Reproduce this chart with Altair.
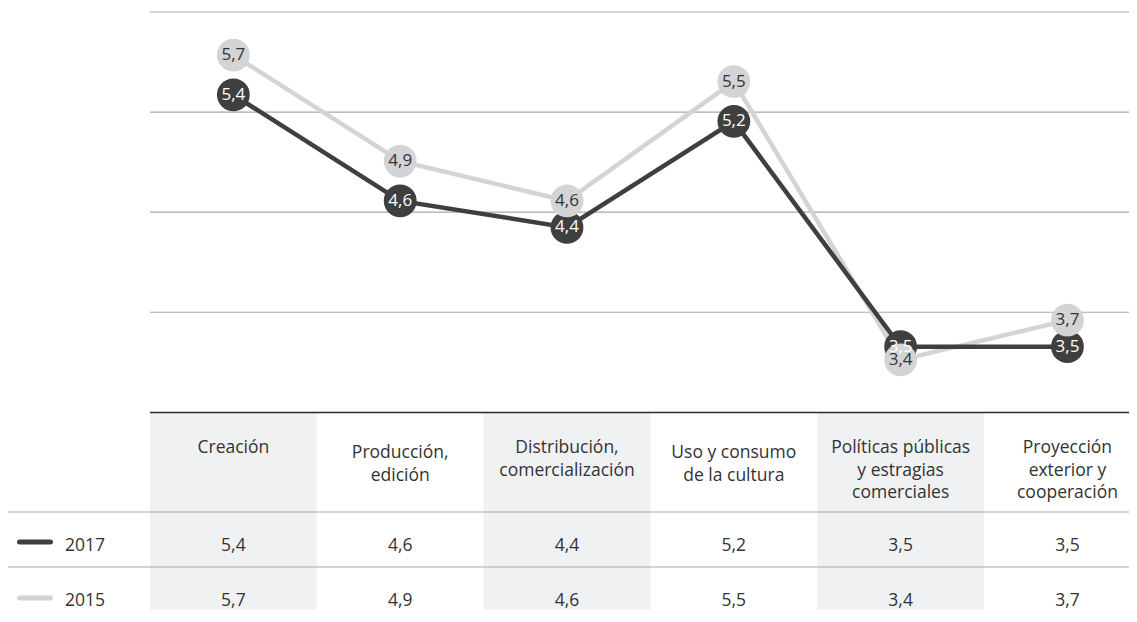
import altair as alt
import pandas as pd

# ---------------- data ----------------
categories = [
    "Creación",
    "Producción, edición",
    "Distribución, comercialización",
    "Uso y consumo de la cultura",
    "Políticas públicas y estragias comerciales",
    "Proyección exterior y cooperación",
]
header_lines = [
    ["Creación"],
    ["Producción,", "edición"],
    ["Distribución,", "comercialización"],
    ["Uso y consumo", "de la cultura"],
    ["Políticas públicas", "y estragias", "comerciales"],
    ["Proyección", "exterior y", "cooperación"],
]
years = ["2017", "2015"]
values_2017 = [5.4, 4.6, 4.4, 5.2, 3.5, 3.5]
values_2015 = [5.7, 4.9, 4.6, 5.5, 3.4, 3.7]
grid_levels = [6.025, 5.27, 4.515, 3.76]

# ---------------- style / layout ----------------
FONT = "Open Sans"
DARK = "#3f3f3f"
LIGHT = "#d3d4d6"
TEXT = "#333333"
GRID = "#a8a8a8"
SHADE = "#f0f1f3"

W, H = 1121, 602
PLOT_H = 405
x_dom = [-1.351, 5.369]
y_dom = [3.0, 6.055]

xs = alt.Scale(domain=x_dom, nice=False, zero=False)
ys = alt.Scale(domain=y_dom, nice=False, zero=False, range=[PLOT_H, 0])

idx = list(range(len(categories)))


def fmt(v):
    return f"{v:.1f}".replace(".", ",")


series = pd.DataFrame({
    "i": idx * 2,
    "value": values_2017 + values_2015,
    "year": [years[0]] * len(idx) + [years[1]] * len(idx),
})
series["label"] = series["value"].map(fmt)

grid_df = pd.DataFrame({"level": grid_levels, "x0": -0.5, "x1": x_dom[1]})
edge_df = pd.DataFrame({"x0": [-0.5], "x1": [x_dom[1]]})
shade_df = pd.DataFrame({"x0": [i - 0.5 for i in idx if i % 2 == 0],
                         "x1": [i + 0.5 for i in idx if i % 2 == 0]})
header_df = pd.DataFrame({
    "i": idx,
    "text": ["\n".join(l) for l in header_lines],
    "lower": [(i % 2 == 1 and len(l) == 2) for i, l in zip(idx, header_lines)],
})
year_df = pd.DataFrame({"year": years})

X = alt.X("i:Q", scale=xs, axis=None)
Y = alt.Y("value:Q", scale=ys, axis=None)

layers = []

# grid lines of the plot
layers.append(
    alt.Chart(grid_df).mark_rule(color=GRID, strokeWidth=1.2).encode(
        x=alt.X("x0:Q", scale=xs, axis=None), x2="x1:Q",
        y=alt.Y("level:Q", scale=ys, axis=None))
)

# shaded table columns
layers.append(
    alt.Chart(shade_df).mark_rect(color=SHADE).encode(
        x=alt.X("x0:Q", scale=xs, axis=None), x2="x1:Q",
        y=alt.value(PLOT_H), y2=alt.value(H))
)

# table top line
layers.append(
    alt.Chart(edge_df).mark_rule(color="#2a2a2a", strokeWidth=1.6).encode(
        x=alt.X("x0:Q", scale=xs, axis=None), x2="x1:Q",
        y=alt.value(PLOT_H - 0.5))
)

# row separators
for yy in (504, 559):
    layers.append(
        alt.Chart(year_df.head(1)).mark_rule(color=GRID, strokeWidth=1.2).encode(
            x=alt.value(0), x2=alt.value(W), y=alt.value(yy))
    )

# header labels
layers.append(
    alt.Chart(header_df).transform_filter("!datum.lower").mark_text(
        font=FONT, fontSize=17.5, color=TEXT, baseline="alphabetic",
        lineBreak="\n", lineHeight=22.5, align="center").encode(
        x=X, y=alt.value(445), text="text:N")
)
layers.append(
    alt.Chart(header_df).transform_filter("datum.lower").mark_text(
        font=FONT, fontSize=17.5, color=TEXT, baseline="alphabetic",
        lineBreak="\n", lineHeight=22.5, align="center").encode(
        x=X, y=alt.value(450), text="text:N")
)

# lines (2015 below 2017)
for yr, col in ((years[1], LIGHT), (years[0], DARK)):
    layers.append(
        alt.Chart(series).transform_filter(alt.datum.year == yr).mark_line(
            color=col, strokeWidth=4.5).encode(x=X, y=Y, order="i:Q")
    )

# points (2017 first, 2015 on top), then labels
styles = ((years[0], DARK, "#ffffff"), (years[1], LIGHT, TEXT))
for yr, col, tcol in styles:
    base = alt.Chart(series).transform_filter(alt.datum.year == yr)
    layers.append(base.mark_circle(size=1075, color=col, opacity=1).encode(x=X, y=Y))
for yr, col, tcol in styles:
    base = alt.Chart(series).transform_filter(alt.datum.year == yr)
    layers.append(base.mark_text(font=FONT, fontSize=17, color=tcol,
                                 baseline="middle").encode(x=X, y=Y, text="label:N"))

# table rows with legend swatches
row_base = {years[0]: 542.5, years[1]: 597.7}
row_mid = {years[0]: 534, years[1]: 590}
row_col = {years[0]: DARK, years[1]: LIGHT}
for yr in years:
    layers.append(
        alt.Chart(series).transform_filter(alt.datum.year == yr).mark_text(
            font=FONT, fontSize=17.5, color=TEXT, baseline="alphabetic").encode(
            x=X, y=alt.value(row_base[yr]), text="label:N")
    )
    yd = alt.Chart(year_df).transform_filter(alt.datum.year == yr)
    layers.append(
        yd.mark_rule(color=row_col[yr], strokeWidth=5, strokeCap="round").encode(
            x=alt.value(11.5), x2=alt.value(42.5), y=alt.value(row_mid[yr]))
    )
    layers.append(
        yd.mark_text(font=FONT, fontSize=17.5, color=TEXT, baseline="alphabetic",
                     align="left").encode(
            x=alt.value(57), y=alt.value(row_base[yr]), text="year:N")
    )

chart = alt.layer(*layers).properties(
    width=W, height=H, padding=0,
    autosize=alt.AutoSizeParams(type="none"),
).configure_view(stroke=None)

chart.save("out.html", embed_options={"renderer": "svg", "actions": False})
